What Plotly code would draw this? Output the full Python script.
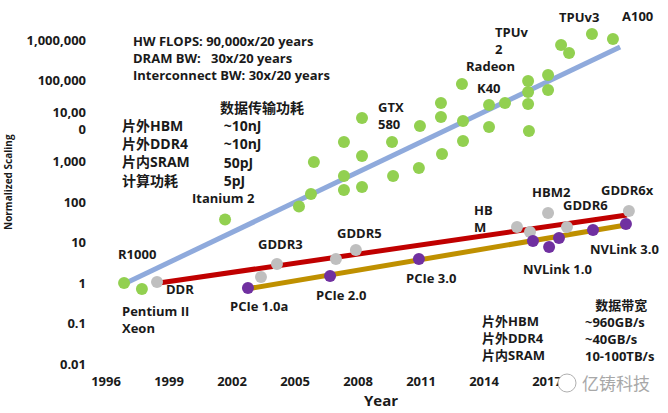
import plotly.graph_objects as go

# ---------------- data ----------------
flops_years = [1996.86, 1997.71, 2001.67, 2005.19, 2005.76, 2005.90, 2007.33, 2007.33, 2007.33,
               2008.19, 2008.19, 2008.19, 2009.62, 2009.67, 2010.95, 2010.90, 2011.95, 2011.95,
               2012.00, 2012.95, 2013.00, 2013.00, 2014.24, 2014.24, 2015.00, 2016.10, 2016.10,
               2016.10, 2016.14, 2017.05, 2017.05, 2017.67, 2018.05, 2019.14, 2020.14]
flops_values = [1.0, 0.71, 37, 77, 158, 973, 3030, 438, 198,
                11860, 1367, 235, 3030, 438, 7530, 692, 27800, 12560,
                1531, 82000, 10000, 3207, 24850, 7110, 27800, 97200, 52000,
                26300, 5660, 136700, 58200, 753000, 477000, 1410000, 1060000]

dram_years = [1998.43, 2003.38, 2004.14, 2006.95, 2007.90, 2015.57, 2016.19, 2017.05, 2017.95, 2020.90]
dram_values = [1.06, 1.41, 2.94, 3.91, 6.53, 24.1, 18.2, 53.5, 24.1, 60]

link_years = [2002.76, 2006.67, 2010.90, 2016.33, 2017.10, 2017.57, 2019.19, 2020.76]
link_values = [0.75, 1.49, 3.91, 10.9, 7.74, 12.9, 20.3, 28.6]

trend_flops_years = [1997.05, 2020.48]
trend_flops_values = [1.06, 671000]
trend_dram_years = [1998.52, 2020.81]
trend_dram_values = [1.0, 47.8]
trend_link_years = [2002.95, 2020.76]
trend_link_values = [0.75, 27]

x_tickvals = [1996, 1999, 2002, 2005, 2008, 2011, 2014, 2017]
y_tickvals = [0.01, 0.1, 1, 10, 100, 1000, 10000, 100000, 1000000]
y_ticktext = ["0.01", "0.1", "1", "10", "100", "1,000", "10,00<br>0", "100,000", "1,000,000"]

# ---------------- styling ----------------
FONT = "Open Sans, Noto Sans CJK SC, sans-serif"
TXT = "#1a1a1a"
NB = "\u00a0"
W, H = 668, 413
L, R, T, B = 95, 8, 15, 45
PW, PH = W - L - R, H - T - B


def ann(text, px, py, size=13, anchor="center", color=TXT, weight="bold", angle=0, align="left"):
    return dict(text=text, x=(px - L) / PW, y=(H - B - py) / PH, xref="paper", yref="paper",
                xanchor=anchor, yanchor="middle", showarrow=False, textangle=angle, align=align,
                borderpad=0,
                font=dict(family=FONT, size=size, color=color, weight=weight))


fig = go.Figure()
fig.add_trace(go.Scatter(x=trend_flops_years, y=trend_flops_values, mode="lines",
                         line=dict(color="#8FAADC", width=5), hoverinfo="skip"))
fig.add_trace(go.Scatter(x=trend_dram_years, y=trend_dram_values, mode="lines",
                         line=dict(color="#C00000", width=5), hoverinfo="skip"))
fig.add_trace(go.Scatter(x=trend_link_years, y=trend_link_values, mode="lines",
                         line=dict(color="#BF9000", width=5), hoverinfo="skip"))
fig.add_trace(go.Scatter(x=flops_years, y=flops_values, mode="markers",
                         marker=dict(color="#92D050", size=12, line=dict(width=0))))
fig.add_trace(go.Scatter(x=dram_years, y=dram_values, mode="markers",
                         marker=dict(color="#BFBFBF", size=12, line=dict(width=0))))
fig.add_trace(go.Scatter(x=link_years, y=link_values, mode="markers",
                         marker=dict(color="#7030A0", size=12, line=dict(width=0))))

energy_right = "数据传输功耗" + "".join("<br>" + NB + s for s in ["~10nJ", "~10nJ", "50pJ", "5pJ"])

annotations = [
    # point labels
    ann("R1000", 137, 254), ann("Pentium II<br>Xeon", 121, 319, anchor="left"),
    ann("DDR", 180, 289), ann("PCIe 1.0a", 259, 306), ann("GDDR3", 280, 244),
    ann("Itanium 2", 223, 198), ann("GDDR5", 359, 233), ann("PCIe 2.0", 341, 295),
    ann("PCIe 3.0", 431, 278), ann("HB<br>M", 473, 218, anchor="left"),
    ann("HBM2", 551, 192), ann("GDDR6", 585, 205), ann("GDDR6x", 627, 190),
    ann("NVLink 1.0", 557, 269), ann("NVLink 3.0", 624, 249),
    ann("GTX<br>580", 377, 115, anchor="left"),
    ann("Radeon", 490, 66), ann("TPUv<br>2", 494, 40, anchor="left"),
    ann("K40", 489, 88), ann("TPUv3", 579, 17), ann("A100", 637, 16),
    # growth summary
    ann("HW FLOPS: 90,000x/20 years<br>DRAM BW:" + NB * 3 + "30x/20 years<br>Interconnect BW: 30x/20 years",
        132, 58, size=13, anchor="left"),
    # energy block
    ann(energy_right, 219, 144, size=14, anchor="left"),
    ann("片外HBM<br>片外DDR4<br>片内SRAM<br>计算功耗", 121, 153, size=14, anchor="left"),
    # bandwidth block
    ann(NB * 3 + "数据带宽<br>~960GB/s<br>~40GB/s<br>10-100TB/s", 584, 330, size=13, anchor="left"),
    ann("片外HBM<br>片外DDR4<br>片内SRAM", 481, 338, size=13, anchor="left"),
    # axis titles
    ann("Year", 381, 400, size=15),
    ann("Normalized Scaling", 8, 182, size=10, angle=-90),
    # watermark
    ann("亿铸科技", 616, 383, size=17, color="#A8A8A8", weight="normal"),
]

fig.update_layout(
    width=W, height=H, margin=dict(l=L, r=R, t=T, b=B),
    paper_bgcolor="white", plot_bgcolor="white", showlegend=False,
    annotations=annotations,
    shapes=[dict(type="circle", xref="paper", yref="paper",
                 x0=(558 - L) / PW, x1=(576 - L) / PW,
                 y0=(H - B - 392) / PH, y1=(H - B - 374) / PH,
                 line=dict(color="#B0B0B0", width=1), fillcolor="white", layer="above")],
    xaxis=dict(range=[1995.476, 2022.381], tickvals=x_tickvals, showgrid=False, zeroline=False,
               showline=False, ticks="", ticklabelstandoff=4,
               tickfont=dict(family=FONT, size=13, color=TXT, weight="bold")),
    yaxis=dict(type="log", range=[-2.099, 6.617], tickvals=y_tickvals, ticktext=y_ticktext,
               showgrid=False, zeroline=False, showline=False, ticks="", ticklabelstandoff=8,
               tickfont=dict(family=FONT, size=13, color=TXT, weight="bold")),
)

fig.write_html("out.html")
